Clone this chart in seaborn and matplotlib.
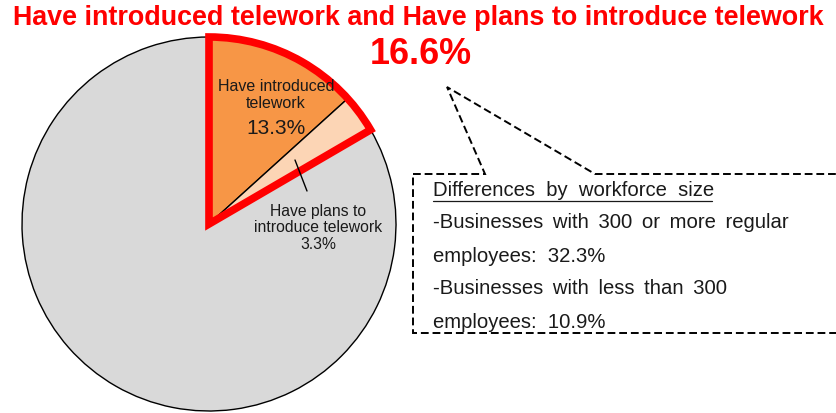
import matplotlib
matplotlib.use("Agg")
import matplotlib.pyplot as plt
from matplotlib.patches import Polygon
from matplotlib.lines import Line2D
import seaborn as sns

# Survey shares (%)
categories = ["Have introduced telework", "Have plans to introduce telework", "Others"]
shares = [13.3, 3.3, 83.4]
slice_colors = ["#F79646", "#FCD5B5", "#D9D9D9"]
combined_share = 16.6
size_breakdown = [("Businesses with 300 or more regular\nemployees", 32.3),
                  ("Businesses with less than 300\nemployees", 10.9)]

sns.set_theme(style="white")
plt.rcParams["font.family"] = ["Liberation Sans", "DejaVu Sans"]

W, H = 837, 413
fig = plt.figure(figsize=(W / 100, H / 100), dpi=100)
fig.patch.set_facecolor("white")


def fx(x):
    return x / W


def fy(y):
    return 1 - y / H


def fit_width(txt, target_px):
    """Scale a text's font size so that it spans target_px pixels."""
    renderer = fig.canvas.get_renderer()
    w = txt.get_window_extent(renderer).width
    txt.set_fontsize(txt.get_fontsize() * target_px / w)


# Pie centred at (209, 224) px with a radius of 187 px
cx, cy, r = 209, 224, 187
ax = fig.add_axes([fx(cx - r), fy(cy + r), 2 * r / W, 2 * r / H])
ax.pie(shares, colors=slice_colors, startangle=90, counterclock=False,
       radius=1.0, wedgeprops=dict(edgecolor="black", linewidth=1.0))

# Red outline around the combined "introduced + planned" share
outline = ax.pie([combined_share, 100 - combined_share], colors=["none", "none"],
                 startangle=90, counterclock=False, radius=1.0,
                 wedgeprops=dict(linewidth=0))[0]
outline[0].set_edgecolor("#FF0000")
outline[0].set_linewidth(5.5)
outline[0].set_joinstyle("miter")
outline[0].set_clip_on(False)
outline[0].set_zorder(5)
ax.set_xlim(-1, 1)
ax.set_ylim(-1, 1)
ax.axis("off")

# Title and headline figure
title = fig.text(fx(418), fy(18), "Have introduced telework and Have plans to introduce telework",
                 ha="center", va="center", color="#FF0000", fontsize=20, fontweight="bold")
fit_width(title, 812)
head = fig.text(fx(421), fy(55), f"{combined_share}%", ha="center", va="center",
                color="#FF0000", fontsize=28, fontweight="bold")
fit_width(head, 102)

# Slice labels
fig.text(fx(276), fy(95), "Have introduced\ntelework", ha="center", va="center",
         fontsize=11.5, color="#1a1a1a", linespacing=1.1)
fig.text(fx(276), fy(128), f"{shares[0]}%", ha="center", va="center",
         fontsize=15, color="#1a1a1a")
fig.text(fx(318), fy(228), f"Have plans to\nintroduce telework\n{shares[1]}%",
         ha="center", va="center", fontsize=11.3, color="#1a1a1a", linespacing=1.15)
fig.add_artist(Line2D([fx(295), fx(307)], [fy(160), fy(191)], color="black",
                      linewidth=1.0, transform=fig.transFigure))

# Dashed callout box with pointer
callout = [(413, 174), (485, 174), (447, 87), (595, 174), (845, 174),
           (845, 333), (413, 333)]
fig.add_artist(Polygon([(fx(x), fy(y)) for x, y in callout], closed=True,
                       fill=False, edgecolor="black", linewidth=1.4,
                       linestyle=(0, (4, 2)), transform=fig.transFigure,
                       clip_on=False))

fs = 14.6
gap = " \u2009"
fig.text(fx(433), fy(190), "Differences  by  workforce  size", ha="left", va="center",
         fontsize=fs, color="#1a1a1a")
fig.add_artist(Line2D([fx(433), fx(712)], [fy(201), fy(201)], color="#1a1a1a",
                      linewidth=0.9, transform=fig.transFigure))
y0 = 223
for label, val in size_breakdown:
    first, second = label.split("\n")
    fig.text(fx(433), fy(y0), "-" + first.replace(" ", gap), ha="left", va="center",
             fontsize=fs, color="#1a1a1a")
    fig.text(fx(433), fy(y0 + 33), f"{second}:  {val}%", ha="left", va="center",
             fontsize=fs, color="#1a1a1a")
    y0 += 66

fig.savefig("out.png", dpi=100, facecolor="white")
